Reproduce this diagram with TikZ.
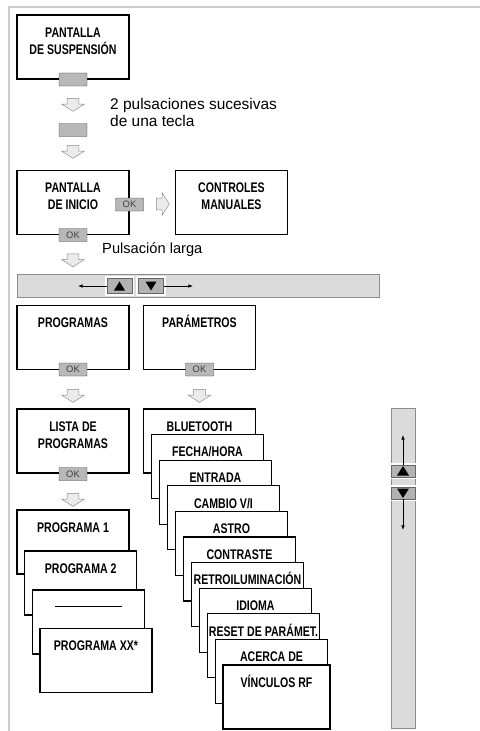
\documentclass[tikz,border=0pt]{standalone}
\usepackage{fontspec}
\setmainfont{Liberation Sans}
\newfontfamily\scrfont[FakeStretch=0.76]{Liberation Sans}
\usetikzlibrary{shapes.arrows, arrows.meta}

\begin{document}
\begin{tikzpicture}[x=0.03cm, y=-0.03cm,
    screen/.style={draw, fill=white, line width=0.9pt, minimum width=3.36cm, minimum height=1.92cm, inner sep=0, label={[lbl]north:{\rule{0pt}{11pt}#1}}},
    lbl/.style={anchor=north, yshift=-8.2pt, align=center, inner sep=0, font=\scrfont\bfseries\fontsize{11.9}{14.5}\selectfont},
    key/.style={draw=black!75, fill=black!28, rounded corners=0.5pt, minimum width=0.84cm, minimum height=0.39cm, inner sep=0, font=\fontsize{8}{8}\selectfont, text=black!75},
    navkey/.style={draw=black!60, fill=black!30, preaction={draw=white, line width=3.5pt}, minimum width=0.75cm, minimum height=0.45cm, inner sep=0},
    bar/.style={draw=black!45, fill=black!14, line width=0.8pt, inner sep=0},
    hollow/.style={single arrow, draw=black!45, fill=black!8, inner xsep=0, inner ysep=0.17cm, single arrow head extend=0.16cm, single arrow tip angle=115, minimum height=0.39cm},
    down/.style={hollow, rotate=-90},
    note/.style={align=left, inner sep=0, font=\fontsize{12.5}{14}\selectfont},
    thin/.style={-{Latex[length=4pt, width=3pt]}, line width=0.5pt}
]
    \useasboundingbox (0,0) rectangle (480,731);
    \draw[black!20, line width=1.2pt] (480,7) -- (9,7) -- (9,731);

    % suspension
    \node[screen={PANTALLA\\DE SUSPENSIÓN}] (susp) at (73,47) {};
    \node[key] (k1) at (73,79.5) {};
    \node[down] (a1) at (73,103) {};
    \node[note, anchor=base west, font=\fontsize{13.2}{14}\selectfont] (n1) at (110,126) {2 pulsaciones sucesivas\\de una tecla};
    \node[key] (k2) at (73,130) {};
    \node[down] (a2) at (73,150) {};

    % inicio
    \node[screen={PANTALLA\\DE INICIO}] (inicio) at (73,202.5) {};
    \node[key] (ok1) at (129.5,204.5) {OK};
    \node[hollow] (a3) at (161,204) {};
    \node[screen={CONTROLES\\MANUALES}] (manual) at (231.5,202.5) {};
    \node[key] (ok2) at (73,235) {OK};
    \node[note, anchor=base west] (n2) at (102,253) {Pulsación larga};
    \node[down] (a4) at (73,258.5) {};

    % navigation bar
    \node[bar, minimum width=10.86cm, minimum height=0.69cm] (hbar) at (198,285.5) {};
    \node[navkey] (hup) at (119.5,286) {};
    \node[navkey] (hdn) at (151,286) {};
    \fill (hup.center) +(-5.5,4.5) -- +(5.5,4.5) -- +(0,-4.5) -- cycle;
    \fill (hdn.center) +(-5.5,-4.5) -- +(5.5,-4.5) -- +(0,4.5) -- cycle;
    \coordinate (hleft) at (78,286);
    \coordinate (hright) at (193,286);
    \draw[thin] (hup) -- (hleft);
    \draw[thin] (hdn) -- (hright);

    % programas / parametros
    \node[screen=PROGRAMAS] (prog) at (73,337.5) {};
    \node[key] (ok3) at (73,369.5) {OK};
    \node[screen=PARÁMETROS] (param) at (199.5,337.5) {};
    \node[key] (ok4) at (199.5,369.5) {OK};
    \node[down] (a5) at (73,394) {};
    \node[down] (a6) at (199.5,394) {};

    % lista
    \node[screen={LISTA DE\\PROGRAMAS}] (lista) at (73,441) {};
    \node[key] (ok5) at (73,474) {OK};
    \node[down] (a7) at (73,498) {};

    % programs
    \node[screen={PROGRAMA 1}] (p1) at (73,542) {};
    \node[screen={PROGRAMA 2}] (p2) at (80.7,583) {};
    \node[screen={\rule[4.5pt]{2cm}{0.6pt}}] (p3) at (88.3,622) {};
    \node[screen={PROGRAMA XX*}] (p4) at (96,660.5) {};

    % parameters
    \node[screen=BLUETOOTH] (par0) at (199.5,441) {};
    \node[screen=FECHA/HORA] (par1) at (207.5,466.6) {};
    \node[screen=ENTRADA] (par2) at (215.5,492.2) {};
    \node[screen=CAMBIO V/I] (par3) at (223.5,517.8) {};
    \node[screen=ASTRO] (par4) at (231.5,543.4) {};
    \node[screen=CONTRASTE] (par5) at (239.5,569) {};
    \node[screen=RETROILUMINACIÓN] (par6) at (247.5,594.6) {};
    \node[screen=IDIOMA] (par7) at (255.5,620.2) {};
    \node[screen=RESET DE PARÁMET.] (par8) at (263.5,645.8) {};
    \node[screen=ACERCA DE] (par9) at (271.5,671.4) {};
    \node[screen=VÍNCULOS RF, minimum width=3.21cm] (par10) at (276.5,697) {};

    % scroll bar
    \node[bar, minimum width=0.72cm, minimum height=9.6cm] (vbar) at (403,568) {};
    \node[navkey, minimum width=0.72cm, minimum height=0.36cm] (vup) at (403,471) {};
    \node[navkey, minimum width=0.72cm, minimum height=0.36cm] (vdn) at (403,493) {};
    \fill (vup.center) +(-6,4.5) -- +(6,4.5) -- +(0,-5) -- cycle;
    \fill (vdn.center) +(-6,-4.5) -- +(6,-4.5) -- +(0,5) -- cycle;
    \coordinate (vtop) at (403,435);
    \coordinate (vbot) at (403,530);
    \draw[thin] (vup) -- (vtop);
    \draw[thin] (vdn) -- (vbot);
\end{tikzpicture}
\end{document}
